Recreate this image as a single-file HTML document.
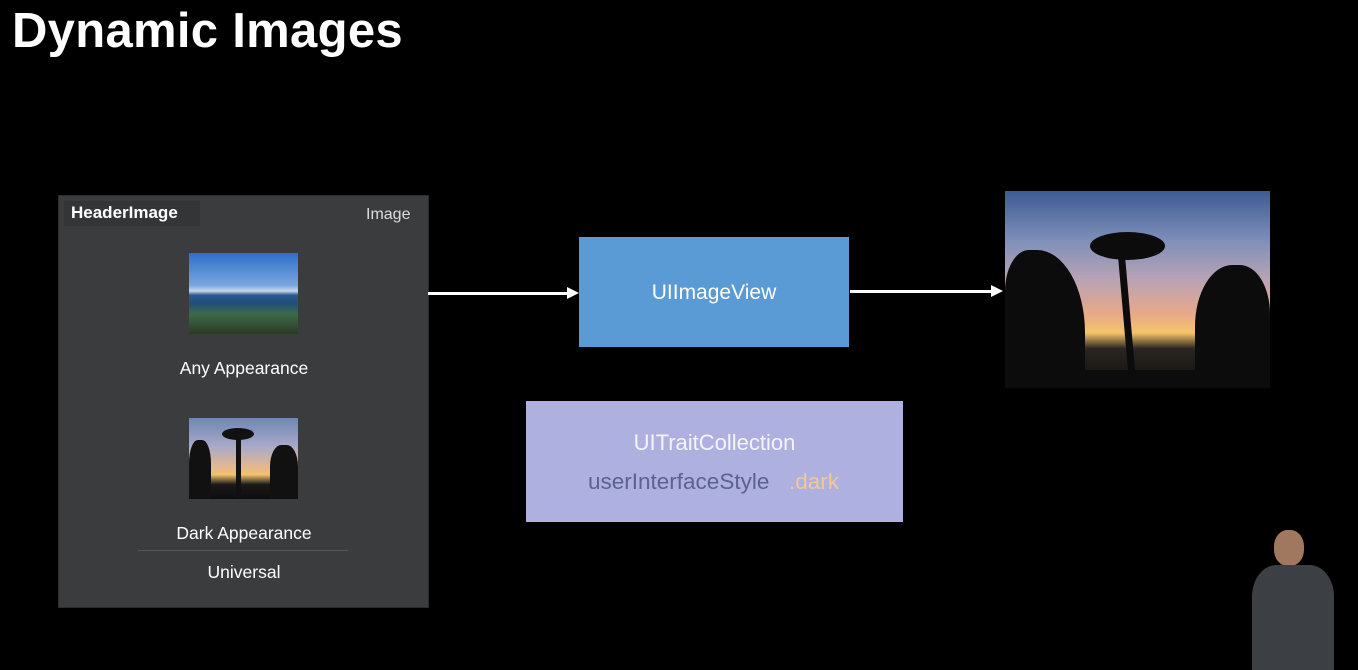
<!DOCTYPE html>
<html><head><style>
body{margin:0;width:1358px;height:670px;background:#000;position:relative;overflow:hidden;font-family:"Liberation Sans",sans-serif}
.a{position:absolute}
.t{color:#fff;text-align:center}
</style></head><body>
<div class="a" style="left:12px;top:3px;font-size:49px;font-weight:bold;color:#fff;letter-spacing:0.3px">Dynamic Images</div>

<div class="a" style="left:58px;top:195px;width:369px;height:411px;background:#3a3c3e;border:1px solid #2a2c2e"></div>
<div class="a" style="left:64px;top:201px;width:136px;height:25px;background:#333537"></div>
<div class="a" style="left:71px;top:203px;font-size:17px;font-weight:bold;color:#fff">HeaderImage</div>
<div class="a" style="left:366px;top:206px;font-size:16px;color:#ddd">Image</div>

<div class="a" style="left:189px;top:253px;width:109px;height:81px;background:linear-gradient(#2e6fc9 0%,#7aa6de 40%,#c9d6e8 47%,#2a5a8f 52%,#1f4e7a 62%,#3d6a4a 75%,#2a3a22 100%)"></div>
<div class="a t" style="left:140px;top:358px;width:208px;font-size:17.5px">Any Appearance</div>

<div class="a" style="left:189px;top:418px;width:109px;height:81px;background:linear-gradient(#6e86b4 0%,#a9a9c8 35%,#e6b98c 62%,#f2c26a 70%,#1a1a1a 82%,#0d0d0d 100%)"></div>
<div class="a" style="left:236px;top:432px;width:5px;height:66px;background:#111"></div>
<div class="a" style="left:222px;top:428px;width:32px;height:12px;background:#111;border-radius:50%"></div>
<div class="a" style="left:189px;top:440px;width:22px;height:59px;background:#111;border-radius:40% 40% 0 0"></div>
<div class="a" style="left:270px;top:445px;width:28px;height:54px;background:#111;border-radius:40% 40% 0 0"></div>
<div class="a t" style="left:140px;top:523px;width:208px;font-size:17.5px">Dark Appearance</div>
<div class="a" style="left:138px;top:550px;width:210px;height:1px;background:#555"></div>
<div class="a t" style="left:140px;top:562px;width:208px;font-size:17.5px">Universal</div>

<div class="a" style="left:428px;top:292px;width:142px;height:3px;background:#fff"></div>
<div class="a" style="left:567px;top:287px;width:0;height:0;border-left:12px solid #fff;border-top:6px solid transparent;border-bottom:6px solid transparent"></div>
<div class="a" style="left:850px;top:290px;width:143px;height:3px;background:#fff"></div>
<div class="a" style="left:991px;top:285px;width:0;height:0;border-left:12px solid #fff;border-top:6px solid transparent;border-bottom:6px solid transparent"></div>

<div class="a" style="left:579px;top:237px;width:270px;height:110px;background:#5a9bd6"></div>
<div class="a t" style="left:579px;top:281px;width:270px;font-size:21px">UIImageView</div>

<div class="a" style="left:526px;top:401px;width:377px;height:121px;background:#aeb0e0"></div>
<div class="a t" style="left:526px;top:430px;width:377px;font-size:22px;color:#f4f4fb">UITraitCollection</div>
<div class="a" style="left:588px;top:469px;font-size:22.5px;color:#5c6290">userInterfaceStyle</div>
<div class="a" style="left:789px;top:469px;font-size:22.5px;color:#f0c89a">.dark</div>

<div class="a" style="left:1005px;top:191px;width:265px;height:197px;background:linear-gradient(#3d5b93 0%,#7d8fb8 25%,#b9a3b5 45%,#e6a88a 62%,#f5c56b 72%,#2a2520 80%,#0e0e0e 100%)"></div>
<div class="a" style="left:1123px;top:240px;width:7px;height:146px;background:#0c0c0c;transform:rotate(-5deg)"></div>
<div class="a" style="left:1090px;top:232px;width:75px;height:28px;background:#0c0c0c;border-radius:50%"></div>
<div class="a" style="left:1005px;top:250px;width:80px;height:138px;background:#0c0c0c;border-radius:30% 60% 0 0"></div>
<div class="a" style="left:1195px;top:265px;width:75px;height:123px;background:#0c0c0c;border-radius:50% 40% 0 0"></div>
<div class="a" style="left:1005px;top:370px;width:265px;height:18px;background:#0c0c0c"></div>

<div class="a" style="left:1274px;top:530px;width:30px;height:36px;background:#a07860;border-radius:45%"></div>
<div class="a" style="left:1252px;top:565px;width:82px;height:105px;background:#3c4044;border-radius:30% 30% 0 0"></div>
</body></html>
